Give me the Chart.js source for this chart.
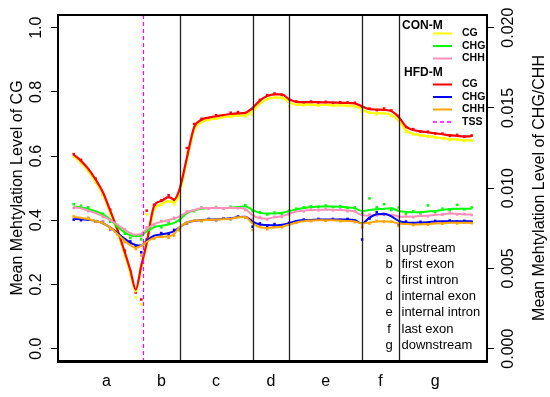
<!DOCTYPE html>
<html><head><meta charset="utf-8">
<script src="https://cdn.jsdelivr.net/npm/chart.js@4.4.0/dist/chart.umd.min.js"></script>
<style>html,body{margin:0;padding:0;background:#fff}#wrap{width:550px;height:397px;position:relative}</style>
</head><body><div id="wrap"><canvas id="c"></canvas></div>
<script>
// ---------- data ----------
const regionLetters = ['a','b','c','d','e','f','g'];
const regionNames = ['upstream','first exon','first intron','internal exon','internal intron','last exon','downstream'];
const regionLengths = [2,1,2,1,2,1,2];
const groupNames = ['CON-M','HFD-M'];
const contextNames = ['CG','CHG','CHH'];
const cgTicks = [0,0.2,0.4,0.6,0.8,1.0];
const chTicks = [0,0.005,0.010,0.015,0.020];

const binPositions = [0.1,0.3,0.5,0.7,0.9,1.1,1.3,1.5,1.65,1.8,1.95,2.1,2.3,2.5,2.7,2.85,3.0,
 3.2,3.4,3.6,3.8,4.0,4.2,4.4,4.6,4.8,5.0,5.2,5.4,5.6,5.8,6.0,6.2,6.4,6.6,6.8,7.0,7.2,7.4,7.6,7.8,
 8.0,8.2,8.4,8.6,8.8,9.0,9.2,9.4,9.6,9.8,10.0,10.2,10.4,10.6,10.8,11.0];

// smoothed curves (CG on left axis, CHG/CHH on right axis)
const hfdCGLine = [0.604,0.585,0.560,0.527,0.487,0.430,0.370,0.300,0.245,0.184,0.258,0.330,0.444,0.460,0.472,0.465,0.497,
 0.595,0.690,0.713,0.720,0.724,0.728,0.731,0.733,0.735,0.750,0.773,0.787,0.792,0.792,0.777,0.769,0.768,0.768,0.768,
 0.767,0.767,0.766,0.766,0.764,0.755,0.746,0.745,0.744,0.740,0.722,0.692,0.681,0.677,0.674,0.671,0.668,0.665,0.663,0.661,0.662];
const conCGLine = [0.600,0.580,0.554,0.520,0.480,0.423,0.362,0.292,0.236,0.178,0.250,0.322,0.432,0.450,0.460,0.455,0.485,
 0.585,0.680,0.705,0.713,0.717,0.721,0.724,0.726,0.727,0.740,0.763,0.777,0.782,0.782,0.768,0.760,0.760,0.760,0.759,
 0.759,0.758,0.758,0.757,0.755,0.745,0.735,0.734,0.733,0.728,0.710,0.680,0.669,0.665,0.662,0.659,0.656,0.653,0.651,0.649,0.649];
const conCHGLine = [0.00886,0.00880,0.00870,0.00856,0.00836,0.00804,0.00760,0.00724,0.00706,0.00700,0.00706,0.00730,0.00756,0.00766,0.00774,0.00784,0.00804,
 0.00844,0.00862,0.00872,0.00876,0.00876,0.00876,0.00878,0.00882,0.00886,0.00864,0.00846,0.00842,0.00842,0.00846,0.00856,0.00868,0.00876,0.00882,0.00886,
 0.00886,0.00886,0.00884,0.00880,0.00874,0.00858,0.00864,0.00868,0.00872,0.00874,0.00858,0.00852,0.00850,0.00850,0.00854,0.00858,0.00864,0.00870,0.00872,0.00872,0.00872];
const conCHHLine = [0.00882,0.00874,0.00860,0.00844,0.00824,0.00800,0.00772,0.00740,0.00720,0.00710,0.00716,0.00744,0.00776,0.00790,0.00802,0.00810,0.00824,
 0.00850,0.00864,0.00874,0.00876,0.00876,0.00876,0.00876,0.00876,0.00870,0.00830,0.00812,0.00810,0.00818,0.00826,0.00840,0.00854,0.00860,0.00864,0.00866,
 0.00866,0.00866,0.00864,0.00860,0.00854,0.00832,0.00828,0.00834,0.00836,0.00834,0.00824,0.00822,0.00824,0.00826,0.00828,0.00832,0.00838,0.00842,0.00840,0.00836,0.00836];
const hfdCHGLine = [0.00808,0.00806,0.00802,0.00796,0.00780,0.00756,0.00720,0.00684,0.00660,0.00646,0.00642,0.00672,0.00704,0.00712,0.00720,0.00732,0.00756,
 0.00786,0.00796,0.00802,0.00804,0.00806,0.00808,0.00812,0.00820,0.00822,0.00792,0.00774,0.00770,0.00768,0.00772,0.00782,0.00796,0.00800,0.00802,0.00804,
 0.00804,0.00804,0.00804,0.00804,0.00800,0.00780,0.00816,0.00838,0.00840,0.00824,0.00796,0.00786,0.00784,0.00786,0.00788,0.00792,0.00794,0.00794,0.00794,0.00794,0.00794];
const hfdCHHLine = [0.00820,0.00814,0.00806,0.00796,0.00780,0.00754,0.00714,0.00672,0.00644,0.00628,0.00640,0.00666,0.00690,0.00696,0.00700,0.00716,0.00756,
 0.00786,0.00796,0.00800,0.00802,0.00804,0.00806,0.00810,0.00818,0.00820,0.00780,0.00756,0.00752,0.00754,0.00760,0.00772,0.00786,0.00794,0.00798,0.00800,
 0.00800,0.00800,0.00798,0.00796,0.00792,0.00780,0.00786,0.00792,0.00794,0.00790,0.00780,0.00776,0.00774,0.00774,0.00776,0.00780,0.00782,0.00784,0.00784,0.00784,0.00784];

// raw bin means (dots)
const hfdCGDots = [0.606,0.588,0.557,0.530,0.482,0.433,0.366,0.305,0.240,0.175,0.153,0.430,0.448,0.462,0.478,0.462,0.480,
 0.625,0.700,0.716,0.718,0.727,0.726,0.735,0.737,0.733,0.745,0.775,0.790,0.795,0.790,0.770,0.770,0.766,0.770,0.767,
 0.769,0.765,0.768,0.767,0.766,0.752,0.748,0.743,0.748,0.742,0.725,0.690,0.684,0.676,0.676,0.670,0.670,0.663,0.666,0.660,0.664];
const conCGDots = [0.598,0.578,0.552,0.518,0.478,0.420,0.360,0.290,0.232,0.160,0.138,0.418,0.440,0.448,0.458,0.450,0.470,
 0.610,0.690,0.706,0.712,0.716,0.722,0.722,0.728,0.724,0.728,0.765,0.778,0.783,0.780,0.755,0.760,0.758,0.762,0.757,
 0.760,0.756,0.759,0.756,0.753,0.738,0.735,0.730,0.734,0.726,0.712,0.675,0.668,0.664,0.660,0.657,0.655,0.650,0.652,0.647,0.648];
const conCHGDots = [0.00900,0.00890,0.00880,0.00850,0.00840,0.00790,0.00770,0.00716,0.00690,0.00704,0.00680,0.00744,0.00770,0.00756,0.00784,0.00810,0.00796,
 0.00850,0.00856,0.00880,0.00872,0.00882,0.00872,0.00884,0.00880,0.00894,0.00856,0.00850,0.00836,0.00848,0.00840,0.00860,0.00872,0.00880,0.00888,0.00882,
 0.00892,0.00882,0.00888,0.00876,0.00880,0.00840,0.00936,0.00880,0.00900,0.00864,0.00880,0.00840,0.00856,0.00844,0.00892,0.00852,0.00872,0.00864,0.00896,0.00868,0.00880];
const conCHHDots = [0.00876,0.00880,0.00856,0.00850,0.00820,0.00804,0.00768,0.00744,0.00716,0.00704,0.00700,0.00756,0.00770,0.00796,0.00796,0.00816,0.00820,
 0.00856,0.00860,0.00880,0.00872,0.00880,0.00872,0.00880,0.00874,0.00864,0.00810,0.00820,0.00804,0.00822,0.00820,0.00836,0.00858,0.00856,0.00868,0.00862,
 0.00870,0.00862,0.00868,0.00856,0.00858,0.00754,0.00836,0.00830,0.00840,0.00828,0.00820,0.00828,0.00818,0.00832,0.00824,0.00836,0.00834,0.00848,0.00836,0.00840,0.00832];
const hfdCHGDots = [0.00804,0.00800,0.00808,0.00792,0.00790,0.00744,0.00724,0.00676,0.00668,0.00636,0.00600,0.00680,0.00690,0.00720,0.00712,0.00740,0.00744,
 0.00780,0.00800,0.00796,0.00808,0.00800,0.00812,0.00808,0.00824,0.00816,0.00760,0.00780,0.00764,0.00776,0.00766,0.00784,0.00792,0.00804,0.00798,0.00808,
 0.00800,0.00808,0.00802,0.00808,0.00796,0.00680,0.00810,0.00850,0.00836,0.00830,0.00770,0.00792,0.00780,0.00790,0.00782,0.00796,0.00788,0.00798,0.00792,0.00796,0.00790];
const hfdCHHDots = [0.00824,0.00810,0.00816,0.00790,0.00788,0.00748,0.00710,0.00664,0.00650,0.00620,0.00580,0.00660,0.00684,0.00700,0.00690,0.00704,0.00736,
 0.00780,0.00800,0.00796,0.00806,0.00800,0.00810,0.00806,0.00820,0.00814,0.00740,0.00764,0.00744,0.00760,0.00756,0.00776,0.00784,0.00798,0.00794,0.00804,
 0.00796,0.00802,0.00794,0.00800,0.00788,0.00760,0.00780,0.00796,0.00790,0.00792,0.00764,0.00780,0.00770,0.00778,0.00772,0.00784,0.00778,0.00788,0.00780,0.00786,0.00782];

// ---------- derived ----------
const boundaries = regionLengths.reduce((acc, l) => { acc.push(acc[acc.length-1] + l); return acc; }, [0]);
const regionCenters = regionLengths.map((l, i) => boundaries[i] + l / 2);
const tssPos = boundaries[1];
const innerBoundaries = boundaries.slice(2, boundaries.length - 1);
const zip = ys => binPositions.map((x, i) => ({x, y: ys[i]}));

const FONT = 'Liberation Sans, Arial, Helvetica, sans-serif';
const colors = {
  'CON-M': {CG:'#FFFF00', CHG:'#00FF00', CHH:'#FF8FBA'},
  'HFD-M': {CG:'#FF0000', CHG:'#0000FF', CHH:'#FFA500'}
};
const yMin = -0.0386, yMax = 1.0395, chScale = 0.02;

function lineDs(label, ys, color, axis, order, w) {
  return {type:'line', label, data: zip(ys), yAxisID: axis, borderColor: color, backgroundColor: color,
    borderWidth: w || 2, pointRadius: 0, cubicInterpolationMode: 'monotone', order};
}
function dotDs(label, ys, color, axis, order) {
  return {type:'scatter', label, data: zip(ys), yAxisID: axis, borderColor: color, backgroundColor: color,
    pointStyle: 'rect', pointRadius: 1.8, borderWidth: 0, showLine: false, order};
}

const datasets = [
  dotDs('CON-M CG pts', conCGDots, colors['CON-M'].CG, 'y', 20),
  dotDs('HFD-M CG pts', hfdCGDots, colors['HFD-M'].CG, 'y', 19),
  dotDs('CON-M CHG pts', conCHGDots, colors['CON-M'].CHG, 'y2', 18),
  dotDs('CON-M CHH pts', conCHHDots, colors['CON-M'].CHH, 'y2', 17),
  dotDs('HFD-M CHG pts', hfdCHGDots, colors['HFD-M'].CHG, 'y2', 16),
  dotDs('HFD-M CHH pts', hfdCHHDots, colors['HFD-M'].CHH, 'y2', 15),
  lineDs('CON-M CG', conCGLine, colors['CON-M'].CG, 'y', 6, 2.2),
  lineDs('HFD-M CG', hfdCGLine, colors['HFD-M'].CG, 'y', 5, 2.2),
  lineDs('CON-M CHG', conCHGLine, colors['CON-M'].CHG, 'y2', 4),
  lineDs('CON-M CHH', conCHHLine, colors['CON-M'].CHH, 'y2', 3),
  lineDs('HFD-M CHG', hfdCHGLine, colors['HFD-M'].CHG, 'y2', 2),
  lineDs('HFD-M CHH', hfdCHHLine, colors['HFD-M'].CHH, 'y2', 1)
];

const decor = {
  id: 'decor',
  afterDatasetsDraw(chart) {
    const {ctx, chartArea: a, scales: {x}} = chart;
    ctx.save();
    ctx.strokeStyle = '#222'; ctx.lineWidth = 1.3;
    innerBoundaries.forEach(b => {
      const px = Math.round(x.getPixelForValue(b)) + 0.5;
      ctx.beginPath(); ctx.moveTo(px, a.top); ctx.lineTo(px, a.bottom); ctx.stroke();
    });
    ctx.strokeStyle = '#FF00FF'; ctx.lineWidth = 1.2; ctx.setLineDash([4, 3]);
    const tp = Math.round(x.getPixelForValue(tssPos)) + 0.5;
    ctx.beginPath(); ctx.moveTo(tp, a.top); ctx.lineTo(tp, a.bottom); ctx.stroke();
    ctx.restore();
  },
  afterDraw(chart) {
    const {ctx, chartArea: a} = chart;
    ctx.save();
    // box
    ctx.strokeStyle = '#000'; ctx.lineWidth = 2;
    ctx.strokeRect(a.left, a.top, a.right - a.left, a.bottom - a.top);
    ctx.lineWidth = 3;
    ctx.beginPath(); ctx.moveTo(a.left - 1, a.bottom + 0.5); ctx.lineTo(a.right + 1, a.bottom + 0.5); ctx.stroke();

    // right axis title
    ctx.fillStyle = '#000';
    ctx.font = '16px ' + FONT;
    ctx.textAlign = 'center'; ctx.textBaseline = 'middle';
    ctx.translate(540, (a.top + a.bottom) / 2);
    ctx.rotate(-Math.PI / 2);
    ctx.fillText('Mean Mehtylation Level of CHG/CHH', 0, 0);
    ctx.setTransform(1, 0, 0, 1, 0, 0);

    // series legend (top right)
    const headerY = [26, 72.5];
    const headerX = [402, 404];
    const rowY = [[33.5, 46, 58.5], [84.5, 97, 109.5]];
    groupNames.forEach((g, gi) => {
      ctx.font = 'bold 12px ' + FONT; ctx.textAlign = 'left'; ctx.textBaseline = 'middle';
      ctx.fillStyle = '#000';
      ctx.fillText(g, headerX[gi], headerY[gi]);
      contextNames.forEach((c, ci) => {
        const yy = rowY[gi][ci];
        ctx.strokeStyle = colors[g][c]; ctx.lineWidth = 2; ctx.setLineDash([]);
        ctx.beginPath(); ctx.moveTo(433, yy); ctx.lineTo(452, yy); ctx.stroke();
        ctx.font = 'bold 10.5px ' + FONT; ctx.fillStyle = '#000';
        ctx.fillText(c, 462, yy);
      });
    });
    ctx.strokeStyle = '#FF00FF'; ctx.lineWidth = 1.5; ctx.setLineDash([4, 3]);
    ctx.beginPath(); ctx.moveTo(433, 122); ctx.lineTo(452, 122); ctx.stroke();
    ctx.setLineDash([]);
    ctx.font = 'bold 10.5px ' + FONT; ctx.fillText('TSS', 462, 122);

    // region legend (bottom right)
    ctx.font = '13px ' + FONT; ctx.textBaseline = 'middle';
    regionLetters.forEach((l, i) => {
      const yy = 248 + i * 16.2;
      ctx.textAlign = 'center'; ctx.fillText(l, 389, yy);
      ctx.textAlign = 'left'; ctx.fillText(regionNames[i], 401.5, yy);
    });
    ctx.restore();
  }
};

new Chart(document.getElementById('c'), {
  data: {datasets},
  options: {
    responsive: true, maintainAspectRatio: false, animation: false,
    layout: {padding: {top: 15, left: 0, right: 0, bottom: 0}},
    plugins: {legend: {display: false}, tooltip: {enabled: false}},
    scales: {
      x: {
        type: 'linear', position: 'bottom', min: -0.33, max: 11.42,
        afterBuildTicks: s => { s.ticks = regionCenters.map(v => ({value: v})); },
        ticks: {callback: (v, i) => regionLetters[i], autoSkip: false, minRotation: 0, maxRotation: 0,
          font: {family: FONT, size: 16}, color: '#000', padding: 11},
        grid: {display: false, drawTicks: false},
        border: {display: false},
        afterFit: s => { s.height = 36; }
      },
      y: {
        type: 'linear', position: 'left', min: yMin, max: yMax,
        afterBuildTicks: s => { s.ticks = cgTicks.map(v => ({value: v})); },
        ticks: {callback: v => v.toFixed(1), minRotation: 90, maxRotation: 90, crossAlign: 'center',
          padding: 3, font: {family: FONT, size: 16}, color: '#000'},
        grid: {drawOnChartArea: false, drawTicks: true, tickLength: 7, color: '#000', lineWidth: 1},
        border: {display: false},
        title: {display: true, text: 'Mean Mehtylation Level of CG', color: '#000',
          font: {family: FONT, size: 16}, padding: {top: 8, bottom: 0}},
        afterFit: s => { s.width = 58; }
      },
      y2: {
        type: 'linear', position: 'right', min: yMin * chScale, max: yMax * chScale,
        afterBuildTicks: s => { s.ticks = chTicks.map(v => ({value: v})); },
        ticks: {callback: v => v.toFixed(3), minRotation: 90, maxRotation: 90, crossAlign: 'center',
          padding: -5, font: {family: FONT, size: 16}, color: '#000'},
        grid: {drawOnChartArea: false, drawTicks: true, tickLength: 7, color: '#000', lineWidth: 1},
        border: {display: false},
        afterFit: s => { s.width = 63; }
      }
    }
  },
  plugins: [decor]
});
</script>
</body></html>
